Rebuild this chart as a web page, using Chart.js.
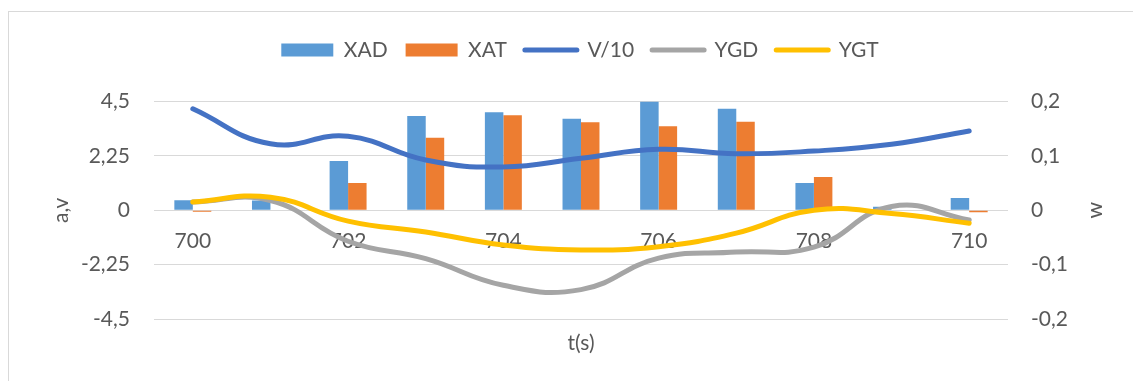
<!DOCTYPE html>
<html>
<head>
<meta charset="utf-8">
<script src="https://cdn.jsdelivr.net/npm/chart.js@4/dist/chart.umd.min.js"></script>
<style>
  html, body { margin: 0; padding: 0; background: #fff; overflow: hidden; }
  #wrap { position: relative; width: 1133px; height: 381px; }
  #frame { position: absolute; left: 8px; top: 11px; width: 1200px; height: 400px;
           border-left: 1px solid #d9d9d9; border-top: 1px solid #d9d9d9; pointer-events: none; }
  canvas { position: absolute; left: 0; top: 0; }
</style>
</head>
<body>
<div id="wrap">
  <div id="frame"></div>
  <canvas id="c" width="1133" height="381"></canvas>
</div>
<script>
// ---- data ----
const categories = ['700','701','702','703','704','705','706','707','708','709','710'];
const xad  = [0.41, 0.40, 2.04, 3.90, 4.06, 3.79, 4.50, 4.20, 1.13, 0.14, 0.51];
const xat  = [-0.06, 0.02, 1.13, 3.00, 3.93, 3.64, 3.48, 3.66, 1.38, 0.00, -0.08];
const v10  = [4.20, 2.75, 3.06, 2.08, 1.79, 2.15, 2.52, 2.34, 2.45, 2.73, 3.28];
const ygd  = [0.015, 0.018, -0.057, -0.089, -0.138, -0.146, -0.088, -0.077, -0.068, 0.007, -0.018];
const ygt  = [0.015, 0.024, -0.020, -0.040, -0.064, -0.073, -0.067, -0.042, 0.000, -0.006, -0.024];
const leftTickLabels  = ['-4,5', '-2,25', '0', '2,25', '4,5'];
const rightTickLabels = ['-0,2', '-0,1', '0', '0,1', '0,2'];
const seriesNames = ['XAD', 'XAT', 'V/10', 'YGD', 'YGT'];
const xTitle = 't(s)';
const yTitle = 'a,v';
const y1Title = 'w';

const TXT = '#595959';
const FONT = { family: 'Lato, "Open Sans", sans-serif', size: 21 };
const GRID = '#D9D9D9';

const rightTitlePlugin = {
  id: 'rightTitle',
  afterDraw(chart) {
    const ctx = chart.ctx;
    const area = chart.chartArea;
    ctx.save();
    ctx.translate(1095, (area.top + area.bottom) / 2);
    ctx.rotate(-Math.PI / 2);
    ctx.font = FONT.size + 'px ' + FONT.family;
    ctx.fillStyle = TXT;
    ctx.textAlign = 'center';
    ctx.textBaseline = 'middle';
    ctx.fillText(y1Title, 0, 0);
    ctx.restore();
  }
};

new Chart(document.getElementById('c'), {
  type: 'bar',
  data: {
    labels: categories,
    datasets: [
      { type: 'bar', label: seriesNames[0], data: xad, backgroundColor: '#5B9BD5', yAxisID: 'y', xAxisID: 'x', order: 4,
        categoryPercentage: 0.476, barPercentage: 1 },
      { type: 'bar', label: seriesNames[1], data: xat, backgroundColor: '#ED7D31', yAxisID: 'y', xAxisID: 'x', order: 5,
        categoryPercentage: 0.476, barPercentage: 1 },
      { type: 'line', label: seriesNames[2], data: v10, borderColor: '#4472C4', backgroundColor: '#4472C4', borderWidth: 5,
        pointRadius: 0, tension: 0.45, borderCapStyle: 'round', borderJoinStyle: 'round', yAxisID: 'y', xAxisID: 'x', order: 3 },
      { type: 'line', label: seriesNames[3], data: ygd, borderColor: '#A5A5A5', backgroundColor: '#A5A5A5', borderWidth: 5,
        pointRadius: 0, tension: 0.45, borderCapStyle: 'round', borderJoinStyle: 'round', yAxisID: 'y1', xAxisID: 'x', order: 2 },
      { type: 'line', label: seriesNames[4], data: ygt, borderColor: '#FFC000', backgroundColor: '#FFC000', borderWidth: 5,
        pointRadius: 0, tension: 0.45, borderCapStyle: 'round', borderJoinStyle: 'round', yAxisID: 'y1', xAxisID: 'x', order: 1 }
    ]
  },
  options: {
    responsive: false,
    animation: false,
    devicePixelRatio: 1,
    layout: { padding: { left: 27, right: 0, top: 21.5, bottom: 0 } },
    plugins: {
      tooltip: { enabled: false },
      legend: {
        position: 'top',
        labels: {
          usePointStyle: true,
          pointStyleWidth: 52,
          boxHeight: 13,
          padding: 18,
          color: TXT,
          font: FONT,
          generateLabels(chart) {
            return chart.data.datasets.map((ds, i) => ({
              text: ds.label,
              fillStyle: ds.type === 'bar' ? ds.backgroundColor : 'rgba(0,0,0,0)',
              strokeStyle: ds.type === 'bar' ? ds.backgroundColor : ds.borderColor,
              lineWidth: ds.type === 'bar' ? 0 : 5,
              lineCap: 'round',
              pointStyle: ds.type === 'bar' ? 'rect' : 'line',
              hidden: !chart.isDatasetVisible(i),
              datasetIndex: i,
              fontColor: TXT
            }));
          }
        }
      },
      title: {
        display: true, text: '', weight: 500,
        padding: { top: 21, bottom: 0 },
        font: { size: 10, lineHeight: 1 }
      }
    },
    scales: {
      x: {
        type: 'category',
        position: { y: 0 },
        offset: true,
        grid: { display: false, drawTicks: false },
        border: { display: false },
        ticks: {
          autoSkip: false, maxRotation: 0, minRotation: 0, padding: 18.4, color: TXT, font: FONT,
          callback: (v) => (v % 2 === 0 ? categories[v] : '')
        },
        afterFit: (s) => { s.height = 0; }
      },
      x2: {
        type: 'category',
        position: 'bottom',
        grid: { display: false, drawTicks: false },
        border: { display: false },
        ticks: { display: false },
        title: { display: true, text: xTitle, color: TXT, font: FONT, padding: { top: 0, bottom: 25.4 } },
        afterFit: (s) => { s.height = 62; }
      },
      y: {
        type: 'linear',
        position: 'left',
        min: -4.5, max: 4.5,
        grid: { color: GRID, lineWidth: 1, drawTicks: false },
        border: { display: false },
        ticks: { stepSize: 2.25, padding: 24, color: TXT, font: FONT,
                 callback: (v, i) => leftTickLabels[i] },
        title: { display: true, text: yTitle, color: TXT, font: FONT, padding: { top: 21.4, bottom: 0 } },
        afterFit: (s) => { s.width = 127; }
      },
      y1: {
        type: 'linear',
        position: 'right',
        min: -0.2, max: 0.2,
        grid: { display: false, drawTicks: false },
        border: { display: false },
        ticks: { stepSize: 0.1, padding: 23, color: TXT, font: FONT,
                 callback: (v, i) => rightTickLabels[i] },
        afterFit: (s) => { s.width = 125; }
      }
    }
  },
  plugins: [rightTitlePlugin]
});
</script>
</body>
</html>
